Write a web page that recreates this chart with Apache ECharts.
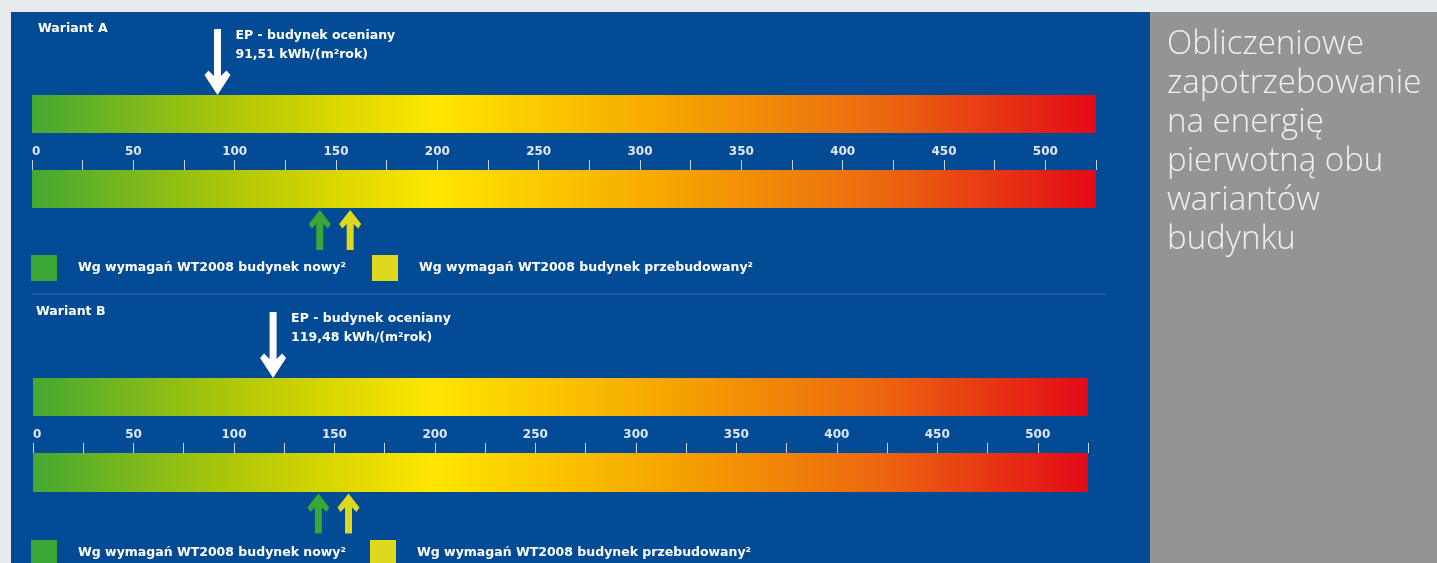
<!DOCTYPE html>
<html>
<head>
<meta charset="utf-8">
<script src="https://cdn.jsdelivr.net/npm/echarts@6/dist/echarts.min.js"></script>
<style>
  html, body { margin: 0; padding: 0; background: #e7ebee; }
  #chart { width: 1437px; height: 563px; }
</style>
</head>
<body>
<div id="chart"></div>
<script>
// scale 0..525 kWh/(m2 rok)
const scaleMin = 0;
const scaleMax = 525;
const variantNames = ["Wariant A", "Wariant B"];
const epValues = [91.51, 119.48];
const epTexts = ["91,51 kWh/(m²rok)", "119,48 kWh/(m²rok)"];
const newBuildingValues = [142, 142];
const rebuiltValues = [157, 157];
const nameNew = "Wg wymagań WT2008 budynek nowy²";
const nameRebuilt = "Wg wymagań WT2008 budynek przebudowany²";
const panelTitle = "Obliczeniowe\nzapotrzebowanie\nna energię\npierwotną obu\nwariantów\nbudynku";

const BLUE = "#034b94";
const GREEN = "#3ba636";
const YELLOW = "#ded91f";
const FONT = "DejaVu Sans";

const downArrow = "path://M9.5,0 L16.5,0 L16.5,47 L22,41.5 L26,46 L13,66 L0,46 L4,41.5 L9.5,47 Z";
const upArrow = "path://M7.5,40 L14.5,40 L14.5,14 L19,18.5 L22,14 L11,0 L0,14 L3,18.5 L7.5,14 Z";

const scaleGradient = new echarts.graphic.LinearGradient(0, 0, 1, 0, [
  { offset: 0, color: "#45a832" },
  { offset: 0.17, color: "#a5c40c" },
  { offset: 0.28, color: "#d8d600" },
  { offset: 0.38, color: "#ffe600" },
  { offset: 0.6, color: "#f6a500" },
  { offset: 0.8, color: "#ec6810" },
  { offset: 1, color: "#e30a18" },
]);

// grid boxes: [A top, A bottom, B top, B bottom]
const grids = [
  { left: 32, top: 95, width: 1064, height: 38 },
  { left: 32, top: 170, width: 1064, height: 38 },
  { left: 33, top: 378, width: 1055, height: 38 },
  { left: 33, top: 453, width: 1055, height: 39 },
];

const xAxes = grids.map((g, i) => {
  const withTicks = i === 1 || i === 3;
  return {
    gridIndex: i,
    type: "value",
    min: scaleMin,
    max: scaleMax,
    interval: 25,
    position: "top",
    axisLine: { show: false },
    splitLine: { show: false },
    axisTick: { show: withTicks, length: 10, lineStyle: { color: "#c6d4e8", width: 1 } },
    axisLabel: {
      show: withTicks,
      margin: 12,
      color: "#dfe8f3",
      fontFamily: FONT,
      fontWeight: "bold",
      fontSize: 12,
      alignMinLabel: "left",
      formatter: (v) => (v % 50 === 0 ? String(v) : ""),
    },
  };
});

const yAxes = grids.map((g, i) => ({
  gridIndex: i,
  type: "category",
  data: [""],
  show: false,
}));

const series = [];
grids.forEach((g, i) => {
  series.push({
    type: "bar",
    xAxisIndex: i,
    yAxisIndex: i,
    data: [scaleMax],
    barWidth: "100%",
    silent: true,
    itemStyle: { color: scaleGradient },
  });
});

variantNames.forEach((v, k) => {
  const top = k * 2;
  const bottom = k * 2 + 1;
  series.push({
    type: "scatter",
    name: "EP",
    xAxisIndex: top,
    yAxisIndex: top,
    data: [[epValues[k], 0]],
    symbol: downArrow,
    symbolSize: [26, 66],
    symbolOffset: [0, -52],
    itemStyle: { color: "#ffffff", opacity: 1 },
    label: {
      show: true,
      position: [31, -3],
      align: "left",
      verticalAlign: "top",
      color: "#ffffff",
      fontFamily: FONT,
      fontWeight: "bold",
      fontSize: 12.5,
      lineHeight: 19,
      formatter: "EP - budynek oceniany\n" + epTexts[k],
    },
    z: 5,
  });
  series.push({
    type: "scatter",
    name: nameNew,
    xAxisIndex: bottom,
    yAxisIndex: bottom,
    data: [[newBuildingValues[k], 0]],
    symbol: upArrow,
    symbolSize: [22, 40],
    symbolOffset: [0, 41],
    itemStyle: { color: GREEN, opacity: 1 },
    z: 5,
  });
  series.push({
    type: "scatter",
    name: nameRebuilt,
    xAxisIndex: bottom,
    yAxisIndex: bottom,
    data: [[rebuiltValues[k], 0]],
    symbol: upArrow,
    symbolSize: [22, 40],
    symbolOffset: [0, 41],
    itemStyle: { color: YELLOW, opacity: 1 },
    z: 5,
  });
});

const legendBase = {
  orient: "horizontal",
  padding: 0,
  itemWidth: 26,
  itemHeight: 26,
  selectedMode: false,
  textStyle: {
    color: "#ffffff",
    fontFamily: FONT,
    fontWeight: "bold",
    fontSize: 12.5,
    padding: [0, 0, 0, 16],
  },
};
const legends = [
  { ...legendBase, left: 31, top: 255, data: [{ name: nameNew, icon: "rect" }] },
  { ...legendBase, left: 372, top: 255, data: [{ name: nameRebuilt, icon: "rect" }] },
  { ...legendBase, left: 31, top: 540, data: [{ name: nameNew, icon: "rect" }] },
  { ...legendBase, left: 370, top: 540, data: [{ name: nameRebuilt, icon: "rect" }] },
];

const chart = echarts.init(document.getElementById("chart"));
chart.setOption({
  backgroundColor: "#e7ebee",
  animation: false,
  grid: grids,
  xAxis: xAxes,
  yAxis: yAxes,
  legend: legends,
  graphic: [
    { type: "rect", z: -10, shape: { x: 11, y: 12, width: 1139, height: 551 }, style: { fill: BLUE } },
    { type: "rect", z: -10, shape: { x: 1150, y: 12, width: 287, height: 551 }, style: { fill: "#949494" } },
    { type: "line", z: -5, shape: { x1: 31, y1: 294, x2: 1106, y2: 294 }, style: { stroke: "#3d72b3", lineWidth: 1 } },
    {
      type: "text", left: 38, top: 22,
      style: { text: variantNames[0], fill: "#ffffff", font: "bold 12.5px " + FONT },
    },
    {
      type: "text", left: 36, top: 305,
      style: { text: variantNames[1], fill: "#ffffff", font: "bold 12.5px " + FONT },
    },
    {
      type: "text", left: 1167, top: 25,
      style: {
        text: panelTitle,
        fill: "#f0f0f0",
        font: "300 33px 'Open Sans'",
        lineHeight: 39,
      },
    },
  ],
  series: series,
});
</script>
</body>
</html>
